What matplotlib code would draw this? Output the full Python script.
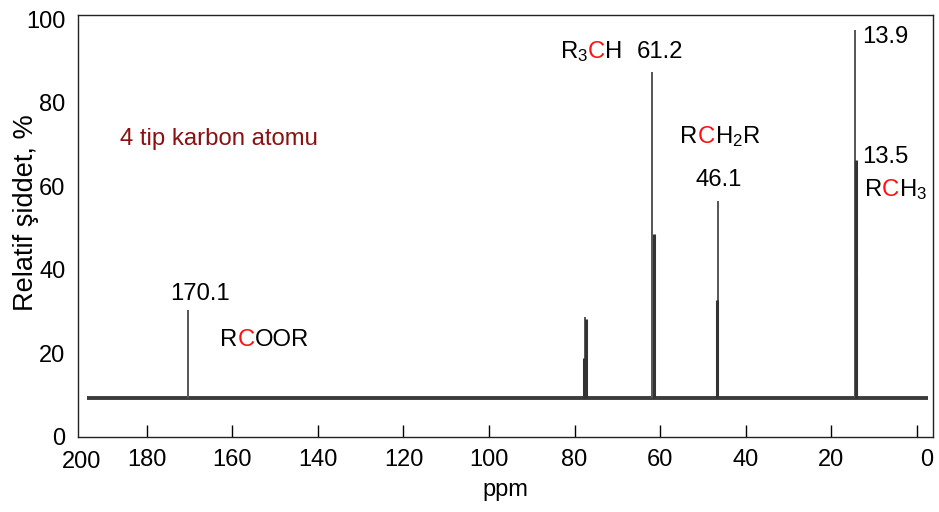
import matplotlib
matplotlib.use("Agg")
import matplotlib.pyplot as plt
from matplotlib.transforms import offset_copy, ScaledTranslation

plt.rcParams['font.family'] = ['Liberation Sans', 'DejaVu Sans']
plt.rcParams['mathtext.fontset'] = 'custom'
plt.rcParams['mathtext.rm'] = 'Liberation Sans'
plt.rcParams['mathtext.it'] = 'Liberation Sans:italic'

# ---- data ----
baseline_level = 9.2
baseline_range = [-2.7, 194.0]
main_ppm = [170.4, 77.55, 61.8, 46.5, 14.5]
main_height = [30.3, 28.7, 87.4, 56.5, 97.4]
side_ppm = [77.85, 77.25, 61.5, 46.8, 14.2, 14.25]
side_height = [18.9, 28.1, 48.5, 32.7, 66.2, 38.0]
xtick_values = [180, 160, 140, 120, 100, 80, 60, 40, 20, 0]
ytick_values = [0, 20, 40, 60, 80, 100]
shift_labels = ["170.1", "61.2", "46.1", "13.9", "13.5"]
group_title = "4 tip karbon atomu"

FS = 17.2
TFS = 17
fig = plt.figure(figsize=(9.39, 5.12), dpi=100)
ax = fig.add_axes([78/939, 1-436.5/512, (933-78)/939, (436.5-15)/512])
ax.set_xlim(196.1, -3.8)
ax.set_ylim(0, 101)

ax.hlines(baseline_level, baseline_range[0], baseline_range[1], color='#3c3c3c', lw=2.8)
ax.vlines(main_ppm, baseline_level, main_height, color='#555555', lw=1.4)
ax.vlines(side_ppm, baseline_level, side_height, color='#333333', lw=2.2)

ax.set_xticks(xtick_values)
ax.set_xticklabels([str(v) for v in xtick_values])
ax.set_yticks(ytick_values)
ax.tick_params(axis='x', direction='in', length=9, width=1, pad=9, labelsize=TFS)
ax.tick_params(axis='y', length=0, pad=9, labelsize=TFS)
ax.text(0, -0.035, "200", transform=ax.transAxes + ScaledTranslation(4/100, 0, fig.dpi_scale_trans),
        ha='center', va='top', fontsize=TFS)
for sp in ax.spines.values():
    sp.set_linewidth(1)
    sp.set_color('#222222')

ax.set_xlabel("ppm", fontsize=TFS, labelpad=6)
ax.set_ylabel("Relatif şiddet, %", fontsize=19.5)
ax.yaxis.set_label_coords((39 - 78) / 855, 0.53)

fig.canvas.draw()
# the "0" label sits slightly right of its tick in the reference
for lab in ax.get_xticklabels():
    if lab.get_text() == "0":
        lab.set_transform(lab.get_transform() + ScaledTranslation(10/100, 0, fig.dpi_scale_trans))

renderer = fig.canvas.get_renderer()

def multicolor(x, y, pieces):
    off = 0.0
    for s, c in pieces:
        tr = offset_copy(ax.transData, fig=fig, x=off, y=0, units='dots')
        t = ax.text(x, y, s, color=c, fontsize=FS, ha='left', va='baseline', transform=tr)
        off += t.get_window_extent(renderer).width

RED = '#ff1010'
K = 'black'
multicolor(83.4, 90.7, [("R$_3$", K), ("C", RED), ("H", K)])
ax.text(65.4, 90.7, shift_labels[1], fontsize=FS, ha='left', va='baseline')
ax.text(186.3, 69.8, group_title, fontsize=FS, color='#8b1010', ha='left', va='baseline')
multicolor(55.3, 70.3, [("R", K), ("C", RED), ("H$_2$R", K)])
ax.text(51.8, 60.0, shift_labels[2], fontsize=FS, ha='left', va='baseline')
ax.text(12.8, 94.3, shift_labels[3], fontsize=FS, ha='left', va='baseline')
ax.text(12.8, 65.5, shift_labels[4], fontsize=FS, ha='left', va='baseline')
multicolor(12.1, 57.6, [("R", K), ("C", RED), ("H$_3$", K)])
ax.text(174.6, 32.7, shift_labels[0], fontsize=FS, ha='left', va='baseline')
multicolor(162.9, 21.7, [("R", K), ("C", RED), ("OOR", K)])

fig.savefig("out.png", dpi=100)
